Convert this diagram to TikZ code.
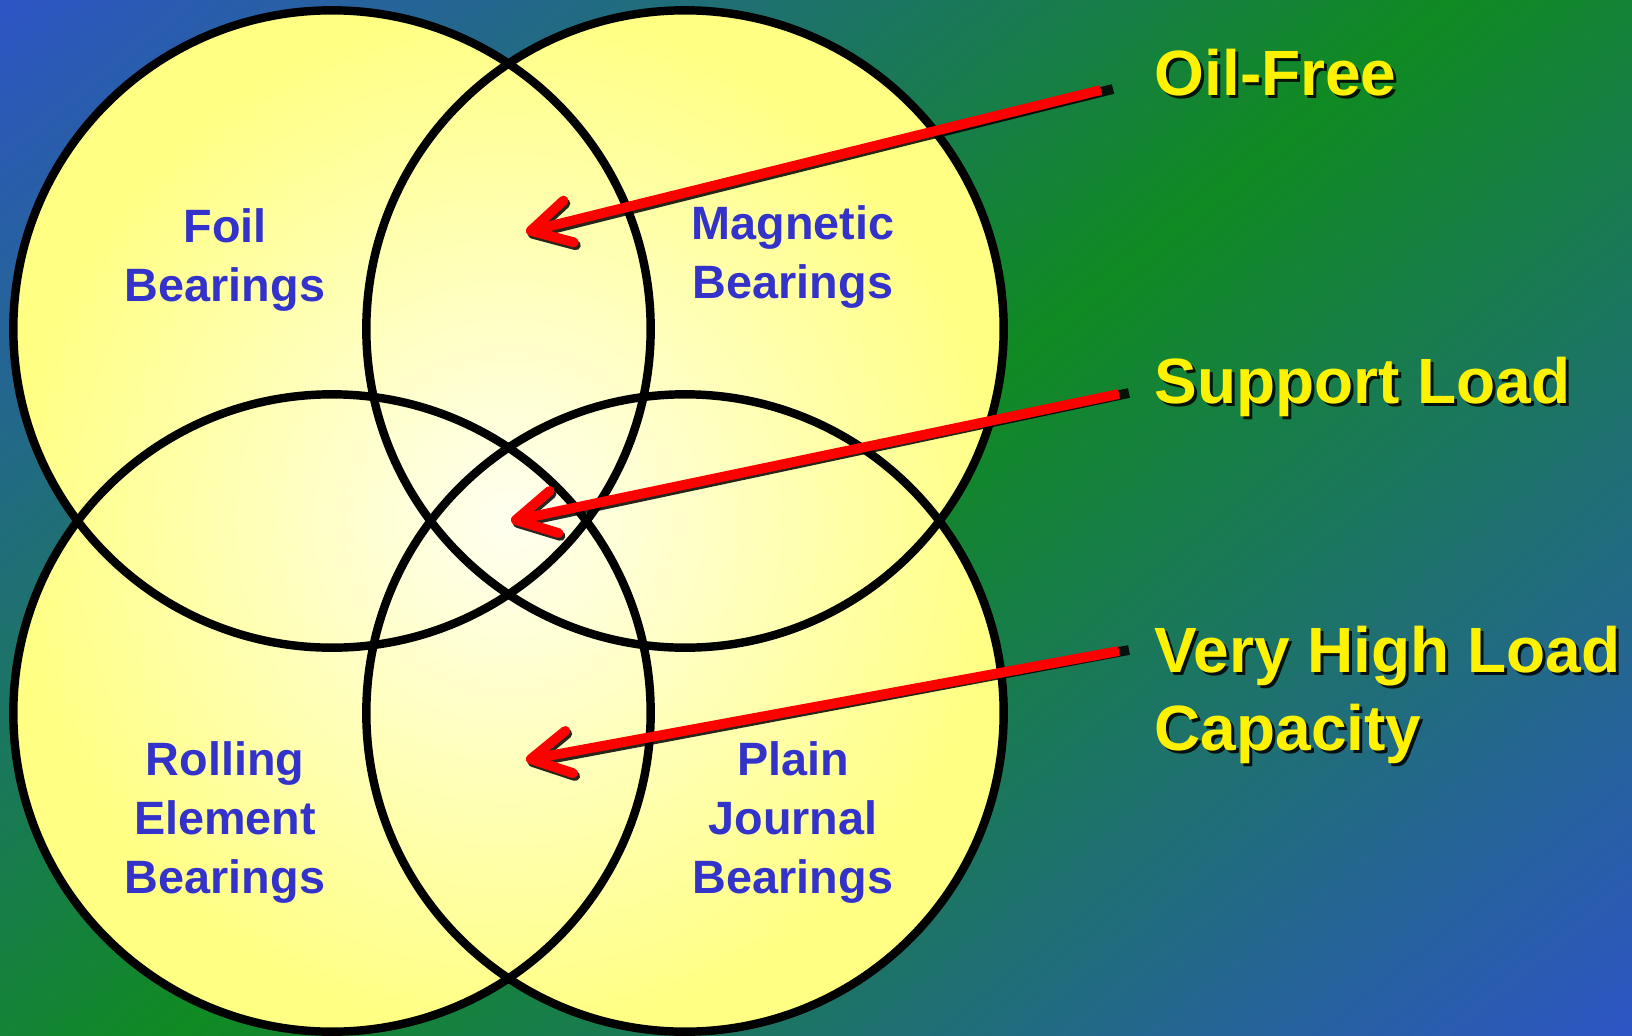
\documentclass[tikz,border=0pt]{standalone}
\usepackage{fontspec}
\setmainfont{Liberation Sans}
\usetikzlibrary{arrows.meta,positioning}
\definecolor{bgblue}{RGB}{46,84,200}
\definecolor{bggreen}{RGB}{16,138,34}
\definecolor{lightfill}{RGB}{255,255,240}
\definecolor{yellowfill}{RGB}{255,255,132}
\definecolor{labelblue}{RGB}{51,51,204}
\tikzset{
  ring/.style={circle,draw=black,line width=2.4pt,minimum size=6.37cm,inner sep=0pt},
  btext/.style={font=\fontsize{13.3}{16.8}\selectfont\bfseries,text=labelblue,align=center,anchor=north,inner sep=0pt},
  ytext/.style={font=\fontsize{18.2}{22.2}\selectfont\bfseries,text=yellow,align=left,anchor=north west,inner sep=0pt},
  yshade/.style={ytext,text=black,opacity=0.85},
  redarrow/.style={-{Straight Barb[length=3.9mm,width=4.3mm,round]},line width=2.8pt,draw=red},
  arrowshade/.style={redarrow,draw=black,opacity=0.85}
}

\begin{document}
\begin{tikzpicture}[x=0.01cm,y=-0.01cm]
\useasboundingbox (0,0) rectangle (1632,1036);
% background
\begin{scope}
\clip (0,0) rectangle (1632,1036);
\shade[transform canvas={shift={(816,518)},rotate=39},top color=bgblue,bottom color=bgblue,middle color=bggreen] (-1000,-930) rectangle (1000,930);
\end{scope}
% circles
\shade[inner color=lightfill,outer color=yellowfill] (332,329) circle[radius=3.185cm] (685,329) circle[radius=3.185cm]
  (332,713) circle[radius=3.185cm] (685,713) circle[radius=3.185cm];
\node[ring] (foil) at (332,329) {};
\node[ring] (magnetic) at (685,329) {};
\node[ring] (rolling) at (332,713) {};
\node[ring] (plain) at (685,713) {};
\node[btext] (foiltext) at (225,208) {Foil\\Bearings};
\node[btext] (magnetictext) at (793,205) {Magnetic\\Bearings};
\node[btext] (rollingtext) at (225,741) {Rolling\\Element\\Bearings};
\node[btext] (plaintext) at (793,741) {Plain\\Journal\\Bearings};
% labels on the right
\node[yshade] (oilshade) at (1157,51) {Oil-Free};
\node[ytext] (oil) at (1154,48) {Oil-Free};
\node[yshade] (supshade) at (1157,359) {Support Load};
\node[ytext] (sup) at (1154,356) {Support Load};
\node[yshade] (veryshade) at (1157,628) {Very High Load\\Capacity};
\node[ytext] (very) at (1154,625) {Very High Load\\Capacity};
% arrows
\coordinate (oiltip) at (526,232);
\coordinate (suptip) at (511,521);
\coordinate (verytip) at (526,760);
\draw[arrowshade] ([shift={(-41,41)}]oil.north west) -- ([shift={(2,3)}]oiltip);
\draw[redarrow] ([shift={(-53,42)}]oil.north west) -- (oiltip);
\draw[arrowshade] ([shift={(-25,37)}]sup.north west) -- ([shift={(2,3)}]suptip);
\draw[redarrow] ([shift={(-35,38)}]sup.north west) -- (suptip);
\draw[arrowshade] ([shift={(-25,25)}]very.north west) -- ([shift={(2,3)}]verytip);
\draw[redarrow] ([shift={(-35,26)}]very.north west) -- (verytip);
\end{tikzpicture}
\end{document}
